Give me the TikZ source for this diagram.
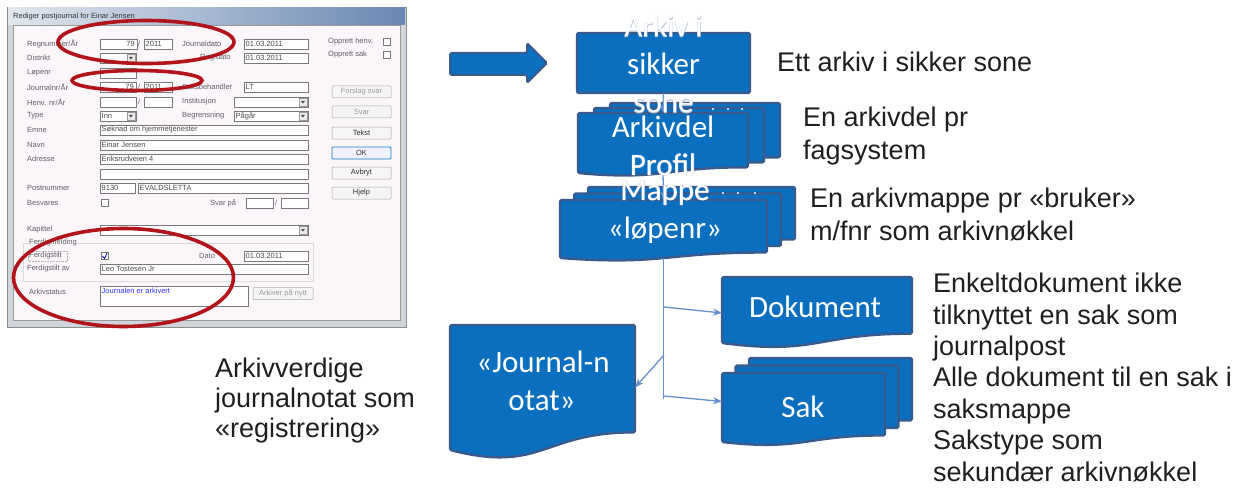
\documentclass[tikz,border=0pt]{standalone}
\usepackage{fontspec}
\setmainfont{Liberation Sans}
\newfontfamily\shapefont{Carlito}
\newfontfamily\shaperim[FakeBold=1.3]{Carlito}
\newfontfamily\uifont{Liberation Sans}
\usetikzlibrary{arrows.meta}

\definecolor{shapefill}{RGB}{11,111,192}
\definecolor{shapeedge}{RGB}{56,90,140}
\definecolor{linkcol}{RGB}{100,145,205}
\definecolor{halo}{RGB}{185,196,214}
\definecolor{markred}{RGB}{178,20,28}
\definecolor{winface}{RGB}{250,246,250}
\definecolor{winframe}{RGB}{208,213,220}
\definecolor{fieldedge}{RGB}{120,120,125}
\definecolor{labelgray}{RGB}{95,95,100}
\definecolor{titleL}{RGB}{226,231,238}
\definecolor{titleR}{RGB}{105,135,178}

\tikzset{
  shapebox/.style={fill=shapefill, draw=shapeedge, line width=2.4pt, line join=round, rounded corners=1.5pt},
  anchorbox/.style={anchor=north west, inner sep=0pt, outer sep=0pt},
  link/.style={draw=linkcol, line width=1.3pt, -{Stealth[length=9pt,width=7pt]}},
  plainlink/.style={draw=linkcol, line width=1.3pt},
  boxtxt/.style={font=\shapefont\fontsize{31}{38}\selectfont, text=white, inner sep=0pt, anchor=base},
  halotxt/.style={boxtxt, font=\shaperim\fontsize{31}{38}\selectfont, text=halo},
  note/.style={font=\fontsize{27}{31.3}\selectfont, align=left, anchor=north west, inner sep=0pt, text=black!88},
  redmark/.style={draw=markred, line width=3.6pt},
  field/.style={draw=fieldedge, fill=white, line width=0.6pt},
  ui/.style={font=\uifont\fontsize{7.5}{8}\selectfont, text=labelgray, inner sep=0pt, anchor=west},
  uival/.style={ui, text=black!70},
  btn/.style={draw=black!35, fill=black!4, line width=0.5pt, rounded corners=1pt},
}

% one page of a document shape with a wavy lower edge
\newcommand\docpage[7]{% style, x, y, width, left height, right-end ratio, control ratio
  \path[#1] (#2,#3) -- ({#2+#4},#3) -- ({#2+#4},{#3+#6*#5})
    .. controls ({#2+#4/2},{#3+#6*#5}) and ({#2+#4/2},{#3+#7*#5}) .. (#2,{#3+#5}) -- cycle;}
% text line inside a shape
\newcommand\shapeline[4]{\node[boxtxt] (#1) at (#2,#3) {#4};}
% text line that runs past its shape: white with a soft rim
\newcommand\ghostline[4]{%
  \node[halotxt] (#1-rim) at (#2,#3) {#4};
  \node[boxtxt] (#1) at (#2,#3) {#4};}
% dialog widgets
\newcommand\uilabel[4]{\node[ui] (#1) at (#2,#3) {#4};}
\newcommand\uifield[5]{% name, x1, y, x2, text
  \draw[field] (#2,{#3-5}) rectangle (#4,{#3+5});
  \node[uival] (#1) at ({#2+1.5},#3) {#5};}
\newcommand\uicombo[5]{%
  \uifield{#1}{#2}{#3}{#4}{#5}
  \draw[fill=black!8, draw=black!40, line width=0.4pt] ({#4-9},{#3-3.8}) rectangle ({#4-1.2},{#3+3.8});
  \fill[black!70] ({#4-7},{#3-1}) -- ({#4-3.2},{#3-1}) -- ({#4-5.1},{#3+1.6}) -- cycle;}
\newcommand\uibutton[6]{% name, x1, x2, y, text, text colour
  \draw[btn] (#2,{#4-6}) rectangle (#3,{#4+6});
  \node[ui, anchor=center, text=#6] (#1) at ({(#2+#3)/2},#4) {#5};}
\newcommand\uicheck[3]{\draw[field] (#2,{#3-3.5}) rectangle ({#2+7},{#3+3.5}); \coordinate (#1) at ({#2+3.5},#3);}

\begin{document}
\begin{tikzpicture}[x=1pt,y=-1pt]
\useasboundingbox (0,0) rectangle (1249,500);

% ================= dialog window =================
\draw[fill=winframe, draw=black!45, line width=0.8pt] (7,7) rectangle (406,327);
\shade[left color=titleL, right color=titleR] (8,8) rectangle (405,25);
\node[ui, text=black!80] (wintitle) at (13,16.5) {Rediger postjournal for Einar Jensen};
\draw[fill=winface, draw=black!40, line width=0.6pt] (13,25) rectangle (400,320);

% left column labels
\uilabel{lb1}{27}{44}{Regnummer/År}
\uilabel{lb2}{27}{58}{Distrikt}
\uilabel{lb3}{27}{73}{Løpenr}
\uilabel{lb4}{27}{87}{Journalnr/År}
\uilabel{lb5}{27}{102}{Henv. nr/År}
\uilabel{lb6}{27}{116}{Type}
\uilabel{lb7}{27}{130}{Emne}
\uilabel{lb8}{27}{145}{Navn}
\uilabel{lb9}{27}{159}{Adresse}
\uilabel{lb10}{27}{188}{Postnummer}
\uilabel{lb11}{27}{203}{Besvares}
\uilabel{lb12}{27}{230}{Kapittel}
\uilabel{lb15}{27}{269}{Ferdigstilt av}
\uilabel{lb16}{29}{292}{Arkivstatus}
% middle column labels
\uilabel{lb17}{182}{44}{Journaldato}
\uilabel{lb18}{200}{58}{Reg.dato}
\uilabel{lb19}{182}{87}{Saksbehandler}
\uilabel{lb20}{182}{102}{Institusjon}
\uilabel{lb21}{182}{116}{Begrensning}
\uilabel{lb22}{210}{203}{Svar på}
\uilabel{lb23}{199}{256}{Dato}
% right column
\uilabel{lb24}{328}{42}{Opprett henv.}
\uilabel{lb25}{328}{55}{Opprett sak}
\uicheck{ck1}{383}{42}
\uicheck{ck2}{383}{55}

% fields
\uifield{v1}{100}{44}{137}{}
\node[uival, anchor=east] (v1n) at (135,44) {79};
\node[ui] (s1) at (138,44) {/};
\uifield{v2}{144}{44}{172}{2011}
\uifield{v3}{244}{44}{308}{01.03.2011}
\uicombo{v4}{100}{58}{136}{}
\uifield{v5}{244}{58}{308}{01.03.2011}
\uifield{v6}{100}{73}{136}{}
\uifield{v7}{100}{87}{136}{}
\node[uival, anchor=east] (v7n) at (134,87) {79};
\node[ui] (s2) at (138,87) {/};
\uifield{v8}{144}{87}{172}{2011}
\uifield{v9}{244}{87}{308}{LT}
\uifield{v10}{100}{102}{136}{}
\node[ui] (s3) at (138,102) {/};
\uifield{v11}{144}{102}{172}{}
\uicombo{v12}{234}{102}{308}{}
\uicombo{v13}{100}{116}{136}{Inn}
\uicombo{v14}{234}{116}{308}{Pågår}
\uifield{v15}{100}{130}{308}{Søknad om hjemmetjenester}
\uifield{v16}{100}{145}{308}{Einar Jensen}
\uifield{v17}{100}{159}{308}{Eriksrudveien 4}
\uifield{v18}{100}{174}{308}{}
\uifield{v19}{100}{188}{135}{9130}
\uifield{v20}{138}{188}{308}{EVALDSLETTA}
\uicheck{ck3}{101}{203}
\uifield{v21}{246}{203}{273}{}
\node[ui] (s4) at (275,203) {/};
\uifield{v22}{281}{203}{308}{}
\uicombo{v23}{100}{230}{308}{}

% completion group
\draw[black!15, line width=0.5pt] (23,243) rectangle (313,281);
\node[ui, fill=winface, inner xsep=1pt] (lb13) at (28,243) {Ferdigmelding};
\draw[black!30, densely dotted, line width=0.5pt] (28,251) rectangle (67,261);
\uilabel{lb14}{29}{256}{Ferdigstilt}
\uicheck{ck4}{101}{256}
\draw[blue!70!black, line width=0.8pt] (102.5,256) -- (104.5,258.5) -- (107,253.2);
\uifield{v24}{244}{256}{308}{01.03.2011}
\uifield{v25}{100}{269}{308}{Leo Tostesen Jr}

% archive status
\draw[field] (100,286) rectangle (248,306);
\node[uival, text=blue!80, anchor=north west] (v26) at (101.5,287.5) {Journalen er arkivert};
\uibutton{b7}{253}{313}{293.5}{Arkiver på nytt}{black!40}

% buttons
\uibutton{b1}{332}{391}{92}{Forslag svar}{black!40}
\uibutton{b2}{332}{391}{112}{Svar}{black!40}
\uibutton{b3}{332}{391}{133}{Tekst}{black!80}
\draw[draw=cyan!60!blue, line width=0.8pt, rounded corners=1pt, fill=blue!5] (332,147) rectangle (391,159);
\node[ui, anchor=center, text=black!80] (b4) at (361.5,153) {OK};
\uibutton{b5}{332}{391}{173}{Avbryt}{black!80}
\uibutton{b6}{332}{391}{193}{Hjelp}{black!80}

% red highlight rings
\draw[redmark] (146,42) ellipse [x radius=88, y radius=21.5];
\draw[redmark] (137,80.5) ellipse [x radius=65, y radius=10];
\draw[redmark] (123.5,277.5) ellipse [x radius=110, y radius=49];

% ================= block arrow =================
\path[shapebox, line width=2pt] (450,53) -- (527,53) -- (527,43) -- (547,63) -- (527,83) -- (527,75) -- (450,75) -- cycle;

% ================= archive structure =================
% archive
\path[shapebox] (577,33) rectangle (750,93);
% archive parts (stack of three pages)
\docpage{shapebox}{610}{103}{170}{60}{0.905}{1.129}
\docpage{shapebox}{594}{108}{170}{60}{0.905}{1.129}
\docpage{shapebox}{578}{113}{170}{60}{0.905}{1.129}
% folders (stack)
\docpage{shapebox}{588}{187}{207}{58}{0.905}{1.129}
\docpage{shapebox}{574}{193.5}{207}{58}{0.905}{1.129}
\docpage{shapebox}{560}{200}{207}{58}{0.905}{1.129}
% single document
\docpage{shapebox}{722}{277}{190}{66}{0.859}{1.186}
% journal note
\docpage{shapebox}{450}{325}{185}{125}{0.859}{1.186}
% cases (stack)
\docpage{shapebox}{749}{358}{163}{69}{0.905}{1.129}
\docpage{shapebox}{735.5}{365.5}{163}{69}{0.905}{1.129}
\docpage{shapebox}{722}{373}{163}{69}{0.905}{1.129}

% anchor boxes for the connectors
\node[anchorbox, minimum width=173, minimum height=60] (arkiv) at (577,33) {};
\node[anchorbox, minimum width=170, minimum height=60] (arkivdel) at (578,113) {};
\node[anchorbox, minimum width=207, minimum height=58] (mappe) at (560,200) {};
\node[anchorbox, minimum width=190, minimum height=66] (dokument) at (722,277) {};
\node[anchorbox, minimum width=185, minimum height=125] (journal) at (450,325) {};
\node[anchorbox, minimum width=163, minimum height=69] (sak) at (722,373) {};

% connectors
\coordinate (splitA) at (664,307);
\coordinate (splitB) at (664,355);
\coordinate (splitC) at (664,396);
\coordinate (trunkend) at (664,399);
\draw[link] (arkiv.south) -- (arkivdel.north);
\draw[link] (arkivdel.south) -- (mappe.north);
\draw[plainlink] (mappe.south) -- (mappe.south |- trunkend);
\draw[link] (splitA) -- ([yshift=-3pt]dokument.west);
\draw[link] (splitB) -- (journal.east);
\draw[link] (splitC) -- ([yshift=6pt]sak.west);

% shape texts
\ghostline{t-arkiv1}{663.5}{37}{Arkiv i}
\shapeline{t-arkiv2}{663.5}{75}{sikker}
\ghostline{t-arkiv3}{663.5}{113}{sone}
\shapeline{t-del1}{663}{137}{Arkivdel}
\ghostline{t-del2}{663}{175}{Profil}
\ghostline{t-map1}{665}{200}{Mappe}
\shapeline{t-map2}{665}{238}{«løpenr»}
\shapeline{t-dok}{815}{317}{Dokument}
\shapeline{t-jn1}{543}{372}{«Journal-n}
\shapeline{t-jn2}{542}{410}{otat»}
\shapeline{t-sak}{803}{417}{Sak}
% page edge dots
\foreach \dx [count=\di] in {713,728,742} {\fill[white] (\dx,109) circle (1.1);}
\foreach \dx [count=\di] in {723,738,755} {\fill[white] (\dx,193) circle (1.1);}

% descriptions
\node[note] (n1) at (777,52) {Ett arkiv i sikker sone};
\node[note, font=\fontsize{27}{32.5}\selectfont] (n2) at (803,107) {En arkivdel pr\\fagsystem};
\node[note, font=\fontsize{27}{32.5}\selectfont] (n3) at (810,188) {En arkivmappe pr «bruker»\\m/fnr som arkivnøkkel};
\node[note] (n4) at (933,273) {Enkeltdokument ikke\\tilknyttet en sak som\\journalpost};
\node[note] (n5) at (933,367) {Alle dokument til en sak i\\saksmappe};
\node[note] (n6) at (933,430) {Sakstype som\\sekundær arkivnøkkel};
\node[note, font=\fontsize{27}{30}\selectfont] (n7) at (215,358) {Arkivverdige\\journalnotat som\\«registrering»};
\end{tikzpicture}
\end{document}
